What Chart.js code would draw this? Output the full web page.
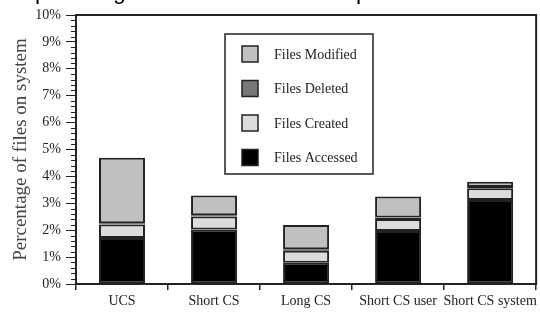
<!DOCTYPE html>
<html>
<head>
<meta charset="utf-8">
<script src="https://cdn.jsdelivr.net/npm/chart.js@4.4.0/dist/chart.umd.min.js"></script>
<style>
  html, body { margin: 0; padding: 0; background: #fff; }
  canvas { display: block; }
</style>
</head>
<body>
<canvas id="files" width="540" height="316"></canvas>
<script>
const categories = ['UCS', 'Short CS', 'Long CS', 'Short CS user', 'Short CS system'];
const filesAccessed = [1.71, 2.03, 0.79, 1.97, 3.12];
const filesCreated = [0.50, 0.48, 0.45, 0.45, 0.44];
const filesDeleted = [0.05, 0.05, 0.05, 0.05, 0.05];
const filesModified = [2.43, 0.73, 0.90, 0.78, 0.19];
const yTicks = [0, 1, 2, 3, 4, 5, 6, 7, 8, 9, 10];

// title text cut off at the top edge, only descenders are visible
const titleBits = [['p', 35], ['g', 113], ['p', 356]];

const serif = '"Liberation Serif", "Times New Roman", serif';
const ink = '#222';

// draws frame, minor ticks, the boxed legend and the clipped title
const extras = {
    id: 'extras',
    afterDatasetsDraw(chart) {
        const ctx = chart.ctx;
        const area = chart.chartArea;
        const y = chart.scales.y;
        ctx.save();
        ctx.strokeStyle = ink;
        ctx.lineWidth = 2;
        ctx.strokeRect(area.left, area.top, area.right - area.left, area.bottom - area.top);

        // minor ticks every 0.2%
        ctx.lineWidth = 1;
        for (let i = 0; i < 50; i++) {
            if (i % 5 === 0) continue;
            const py = Math.round(y.getPixelForValue(i * 0.2)) + 0.5;
            ctx.beginPath();
            ctx.moveTo(area.left - 5, py);
            ctx.lineTo(area.left, py);
            ctx.stroke();
        }

        // legend box
        ctx.fillStyle = '#fff';
        ctx.fillRect(225, 34, 148, 140);
        ctx.lineWidth = 1.5;
        ctx.strokeRect(225, 34, 148, 140);
        const items = chart.data.datasets.slice().reverse();
        ctx.font = '14px ' + serif;
        ctx.textBaseline = 'middle';
        items.forEach(function (ds, i) {
            const cy = 54 + i * 34.5;
            ctx.fillStyle = ds.backgroundColor;
            ctx.fillRect(242, cy - 8, 16, 16);
            ctx.strokeStyle = ink;
            ctx.lineWidth = 1.5;
            ctx.strokeRect(242, cy - 8, 16, 16);
            ctx.fillStyle = ink;
            ctx.fillText(ds.label, 274, cy + 1);
        });

        ctx.fillStyle = '#000';
        ctx.textBaseline = 'alphabetic';
        ctx.font = '23px "Liberation Sans", Arial, sans-serif';
        titleBits.forEach(function (b) {
            ctx.fillText(b[0], b[1], -1);
        });
        ctx.restore();
    }
};

new Chart(document.getElementById('files').getContext('2d'), {
    type: 'bar',
    data: {
        labels: categories,
        datasets: [
            { label: 'Files Accessed', data: filesAccessed, backgroundColor: '#000000' },
            { label: 'Files Created', data: filesCreated, backgroundColor: '#dcdcdc' },
            { label: 'Files Deleted', data: filesDeleted, backgroundColor: '#777777' },
            { label: 'Files Modified', data: filesModified, backgroundColor: '#c0c0c0' }
        ]
    },
    options: {
        responsive: false,
        animation: false,
        layout: { padding: { top: 15, right: 2, left: 0, bottom: 0 } },
        datasets: {
            bar: {
                barPercentage: 0.5,
                categoryPercentage: 1,
                borderColor: ink,
                borderWidth: 2,
                borderSkipped: false
            }
        },
        scales: {
            x: {
                stacked: true,
                grid: { offset: true, drawOnChartArea: false, tickLength: 6, color: ink, lineWidth: 1.5 },
                border: { color: ink, width: 2 },
                ticks: { color: ink, font: { family: serif, size: 14 }, padding: 3, maxRotation: 0, autoSkip: false },
                afterFit(s) { s.height = 32; }
            },
            y: {
                stacked: true,
                min: 0,
                max: 10,
                afterBuildTicks(s) { s.ticks = yTicks.map(v => ({ value: v })); },
                ticks: { color: ink, font: { family: serif, size: 14 }, padding: 5, callback: v => v + '%' },
                grid: { drawOnChartArea: false, tickLength: 10, color: ink, lineWidth: 1 },
                border: { color: ink, width: 2 },
                title: {
                    display: true,
                    text: 'Percentage of files on system',
                    color: '#444',
                    font: { family: serif, size: 19 },
                    padding: { top: 10, bottom: 0 }
                },
                afterFit(s) { s.width = 76; }
            }
        },
        plugins: {
            legend: { display: false },
            tooltip: { enabled: false }
        }
    },
    plugins: [extras]
});
</script>
</body>
</html>
